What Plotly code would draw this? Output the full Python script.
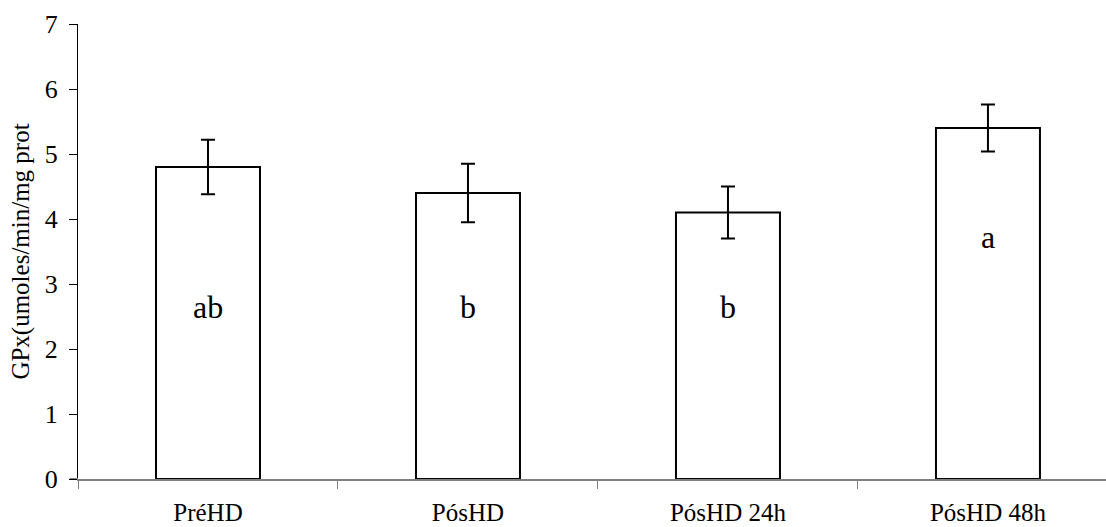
import plotly.graph_objects as go

categories = ["PréHD", "PósHD", "PósHD 24h", "PósHD 48h"]
means = [4.8, 4.4, 4.1, 5.4]
errors = [0.42, 0.45, 0.40, 0.36]
letters = ["ab", "b", "b", "a"]
letter_y = [2.65, 2.65, 2.65, 3.73]
y_ticks = [0, 1, 2, 3, 4, 5, 6, 7]

FONT = "Liberation Serif, Times New Roman, serif"

fig = go.Figure()
fig.add_trace(go.Bar(
    x=categories, y=means, width=0.4,
    marker=dict(color="white", line=dict(color="black", width=2)),
    error_y=dict(type="data", array=errors, visible=True, color="black",
                 thickness=2, width=7),
    showlegend=False,
))

for c, l, yy in zip(categories, letters, letter_y):
    fig.add_annotation(x=c, y=yy, text=l, showarrow=False,
                       font=dict(family=FONT, size=32, color="black"))

# extension of the x axis line left of the y axis
fig.add_shape(type="line", xref="paper", yref="y", x0=-0.008, x1=0, y0=0, y1=0,
              line=dict(color="#808080", width=2))

fig.update_layout(
    width=1106, height=527,
    margin=dict(l=78, r=0, t=24, b=48),
    plot_bgcolor="white", paper_bgcolor="white",
    font=dict(family=FONT, color="black"),
    bargap=0.6,
    xaxis=dict(
        range=[-0.5, 3.454], showgrid=False, zeroline=False,
        showline=True, linecolor="#808080", linewidth=2,
        ticks="outside", tickson="boundaries", ticklen=8, tickcolor="#808080",
        tickwidth=1, tickfont=dict(family=FONT, size=25, color="black"),
        ticklabelstandoff=10,
    ),
    yaxis=dict(
        range=[0, 7], tickvals=y_ticks, showgrid=False, zeroline=False,
        showline=True, linecolor="black", linewidth=1,
        ticks="outside", ticklen=8, tickcolor="black", tickwidth=1,
        tickfont=dict(family=FONT, size=26, color="black"),
        ticklabelstandoff=6,
        title=dict(text="GPx(umoles/min/mg prot", font=dict(family=FONT, size=25, color="black"),
                   standoff=8),
    ),
)

fig.write_html("out.html")
